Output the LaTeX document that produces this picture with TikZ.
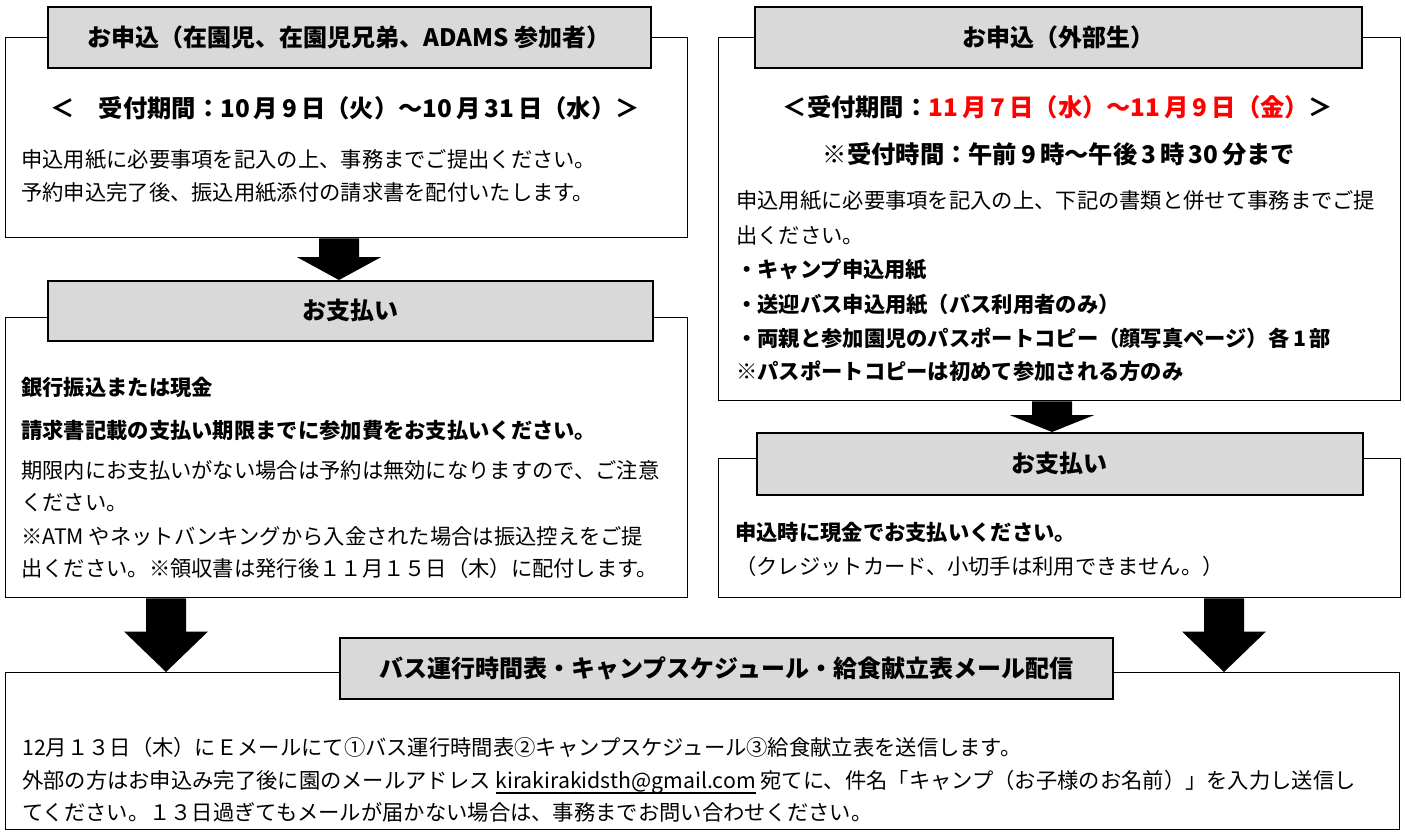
\documentclass[tikz,border=0pt]{standalone}
\usepackage{fontspec}
\setmainfont{Noto Sans CJK JP}
\usetikzlibrary{calc}
\definecolor{hdrgray}{HTML}{D9D9D9}
\definecolor{datered}{HTML}{FF0000}
\newcommand\bodyfs{\fontsize{21.3}{25}\selectfont}
\newcommand\datefs{\fontsize{24.3}{28}\selectfont\bfseries}
\newcommand\hdrfs{\fontsize{24}{28}\selectfont\bfseries}
\newcommand\myul[1]{\setbox0\hbox{#1}\rlap{\rule[-6pt]{\wd0}{1.8pt}}\box0\relax}
\begin{document}
\begin{tikzpicture}[x=1pt,y=-1pt,
  outerbox/.style={draw=black, line width=1.4pt, fill=white, inner sep=0pt, anchor=north west},
  hdrbox/.style={draw=black, line width=1.6pt, fill=hdrgray, inner sep=0pt, anchor=north west,
    font=\hdrfs, text height=21.1pt, text depth=3.1pt},
  txt/.style={anchor=west, inner sep=0pt, font=\bodyfs, text height=18.7pt, text depth=2.5pt},
  btxt/.style={txt, font=\bodyfs\bfseries},
  datetxt/.style={anchor=center, inner sep=0pt, font=\datefs, text height=21.3pt, text depth=3pt},
  blockarrow/.style={fill=black, to path={
    let \p1=(\tikztostart), \p2=(\tikztotarget),
        \p3=($(\tikztotarget)!0.55!(\tikztostart)$) in
    ({\x1-20pt},\y1) -- ({\x1+20pt},\y1) -- ({\x1+20pt},\y3) -- ({\x1+42pt},\y3)
    -- (\x2,\y2) -- ({\x1-42pt},\y3) -- ({\x1-20pt},\y3) -- cycle}}
]
\useasboundingbox (0,0) rectangle (1405,832);

% ---------- outer boxes ----------
\node[outerbox, minimum width=682, minimum height=200] (app1) at (5,37) {};
\node[outerbox, minimum width=682, minimum height=363] (app2) at (718,37) {};
\node[outerbox, minimum width=682, minimum height=280] (pay1) at (5,317) {};
\node[outerbox, minimum width=682, minimum height=139] (pay2) at (718,458) {};
\node[outerbox, minimum width=1394, minimum height=157] (mail) at (5,672) {};

% ---------- header boxes ----------
\node[hdrbox, minimum width=603, minimum height=61] (app1h) at (47,6) {お申込（在園児、在園児兄弟、ADAMS 参加者）};
\node[hdrbox, minimum width=607, minimum height=61] (app2h) at (754,6) {お申込（外部生）};
\node[hdrbox, minimum width=605, minimum height=60] (pay1h) at (47,280) {お支払い};
\node[hdrbox, minimum width=606, minimum height=62] (pay2h) at (756,432) {お支払い};
\node[hdrbox, minimum width=773, minimum height=61] (mailh) at (339,637) {バス運行時間表・キャンプスケジュール・給食献立表メール配信};

% ---------- left application text ----------
\node[datetxt] (d1) at (345,108) {＜　受付期間：10\,月\,9\,日（火）～10\,月\,31\,日（水）＞};
\node[txt] (l1) at (21,159) {申込用紙に必要事項を記入の上、事務までご提出ください。};
\node[txt] (l2) at (21,192) {予約申込完了後、振込用紙添付の請求書を配付いたします。};

% ---------- right application text ----------
\node[datetxt] (d2) at (1058,107) {＜受付期間：\textcolor{datered}{11\,月\,7\,日（水）～11\,月\,9\,日（金）}＞};
\node[datetxt] (d3) at (1059,154) {※受付時間：午前\,9\,時～午後\,3\,時\,30\,分まで};
\node[txt] (r1) at (736,200) {申込用紙に必要事項を記入の上、下記の書類と併せて事務までご提};
\node[txt] (r2) at (736,235) {出ください。};
\node[btxt] (r3) at (736,269) {・キャンプ申込用紙};
\node[btxt] (r4) at (736,304) {・送迎バス申込用紙（バス利用者のみ）};
\node[btxt] (r5) at (736,338) {・両親と参加園児のパスポートコピー（顔写真ページ）各\,1\,部};
\node[btxt] (r6) at (736,371) {※パスポートコピーは初めて参加される方のみ};

% ---------- left payment text ----------
\node[btxt] (p1) at (21,387) {銀行振込または現金};
\node[btxt] (p2) at (21,430) {請求書記載の支払い期限までに参加費をお支払いください。};
\node[txt] (p3) at (21,470) {期限内にお支払いがない場合は予約は無効になりますので、ご注意};
\node[txt] (p4) at (21,502) {ください。};
\node[txt] (p5) at (21,536) {※ATM やネットバンキングから入金された場合は振込控えをご提};
\node[txt] (p6) at (21,568) {出ください。※領収書は発行後１１月１５日（木）に配付します。};

% ---------- right payment text ----------
\node[btxt] (q1) at (735,532) {申込時に現金でお支払いください。};
\node[txt] (q2) at (735,566) {（クレジットカード、小切手は利用できません。）};

% ---------- mail text ----------
\node[txt] (m1) at (22,747) {12月１３日（木）にＥメールにて①バス運行時間表②キャンプスケジュール③給食献立表を送信します。};
\node[txt] (m2) at (22,780) {外部の方はお申込み完了後に園のメールアドレス \myul{kirakirakidsth@gmail.com} 宛てに、件名「キャンプ（お子様のお名前）」を入力し送信し};
\node[txt] (m3) at (22,812) {てください。１３日過ぎてもメールが届かない場合は、事務までお問い合わせください。};

% ---------- block arrows ----------
\coordinate (a1x) at (339,0);
\coordinate (a2x) at (1052,0);
\coordinate (a3x) at (166,0);
\coordinate (a4x) at (1224,0);
\coordinate (a1s) at (app1.south -| a1x);
\coordinate (a1e) at (pay1h.north -| a1x);
\coordinate (a2s) at (app2.south -| a2x);
\coordinate (a2e) at (pay2h.north -| a2x);
\coordinate (a3s) at (pay1.south -| a3x);
\coordinate (a3e) at (mail.north -| a3x);
\coordinate (a4s) at (pay2.south -| a4x);
\coordinate (a4e) at (mail.north -| a4x);
\path[blockarrow] (a1s) to (a1e);
\path[blockarrow] (a2s) to (a2e);
\path[blockarrow] (a3s) to (a3e);
\path[blockarrow] (a4s) to (a4e);
\end{tikzpicture}
\end{document}
